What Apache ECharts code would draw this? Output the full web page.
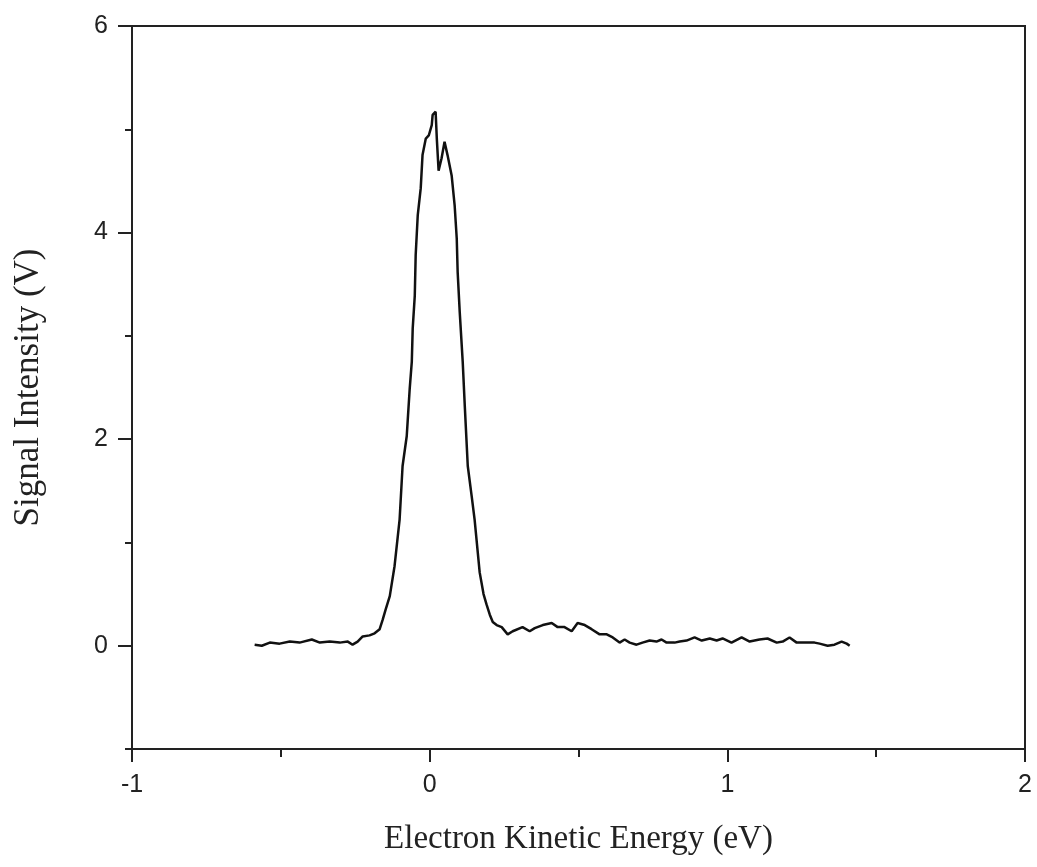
<!doctype html>
<html>
	<head>
		<meta charset="utf-8">
		<title>Electron Kinetic Energy</title>
		<script type="text/javascript" src="https://cdn.jsdelivr.net/npm/echarts@6/dist/echarts.min.js"></script>
	</head>

	<body style="margin:0;padding:0">
		<div id="tb" style="width:1037px;height:867px;"></div>
		<script>
			// 电子动能 (eV)
			var energy = [
				-0.588, -0.564, -0.537, -0.504, -0.470, -0.437, -0.396, -0.369, -0.336, -0.302,
				-0.275, -0.259, -0.242, -0.225, -0.202, -0.185, -0.168, -0.158, -0.148, -0.134,
				-0.118, -0.101, -0.091, -0.077, -0.074, -0.067, -0.060, -0.057, -0.050, -0.047,
				-0.040, -0.030, -0.024, -0.013, -0.003, 0.007, 0.010, 0.020, 0.024, 0.030,
				0.040, 0.050, 0.060, 0.074, 0.084, 0.091, 0.094, 0.101, 0.111, 0.118,
				0.128, 0.141, 0.151, 0.168, 0.181, 0.191, 0.202, 0.212, 0.225, 0.242,
				0.262, 0.279, 0.312, 0.336, 0.353, 0.380, 0.410, 0.430, 0.453, 0.477,
				0.497, 0.521, 0.544, 0.571, 0.595, 0.615, 0.638, 0.655, 0.672, 0.695,
				0.715, 0.739, 0.762, 0.779, 0.796, 0.823, 0.840, 0.863, 0.890, 0.914,
				0.941, 0.964, 0.984, 1.014, 1.048, 1.075, 1.108, 1.135, 1.166, 1.186,
				1.209, 1.233, 1.260, 1.293, 1.310, 1.337, 1.360, 1.384, 1.401, 1.411
			];
			// 信号强度 (V)
			var signal = [
				0.01, 0.00, 0.03, 0.02, 0.04, 0.03, 0.06, 0.03, 0.04, 0.03,
				0.04, 0.01, 0.04, 0.09, 0.10, 0.12, 0.16, 0.25, 0.35, 0.48,
				0.77, 1.22, 1.74, 2.03, 2.17, 2.49, 2.75, 3.07, 3.39, 3.78,
				4.17, 4.43, 4.75, 4.91, 4.94, 5.04, 5.14, 5.17, 4.91, 4.60,
				4.72, 4.88, 4.75, 4.55, 4.26, 3.94, 3.62, 3.23, 2.75, 2.32,
				1.74, 1.45, 1.22, 0.71, 0.50, 0.40, 0.30, 0.23, 0.20, 0.18,
				0.11, 0.14, 0.18, 0.14, 0.17, 0.20, 0.22, 0.18, 0.18, 0.14,
				0.22, 0.20, 0.16, 0.11, 0.11, 0.08, 0.03, 0.06, 0.03, 0.01,
				0.03, 0.05, 0.04, 0.06, 0.03, 0.03, 0.04, 0.05, 0.08, 0.05,
				0.07, 0.05, 0.07, 0.03, 0.08, 0.04, 0.06, 0.07, 0.03, 0.04,
				0.08, 0.03, 0.03, 0.03, 0.02, 0.00, 0.01, 0.04, 0.02, 0.00
			];
			var yLabels = [0, 2, 4, 6];

			var points = [];
			for (var i = 0; i < energy.length; i++) {
				points.push([energy[i], signal[i]]);
			}

			var lineColor = '#222';
			var btchart = echarts.init(document.getElementById('tb'));

			btchart.setOption({
				animation: false,
				backgroundColor: '#fff',
				grid: {
					left: 132, right: 12, top: 26, bottom: 118,
					show: true, borderColor: lineColor, borderWidth: 2
				},
				xAxis: {
					type: 'value', min: -1, max: 2, interval: 1,
					name: 'Electron Kinetic Energy (eV)',
					nameLocation: 'middle', nameGap: 74,
					nameTextStyle: {fontFamily: 'Liberation Serif', fontSize: 33, color: '#222'},
					axisLine: {onZero: false, lineStyle: {color: lineColor, width: 2}},
					axisTick: {inside: false, length: 13, lineStyle: {color: lineColor, width: 2}},
					minorTick: {show: true, splitNumber: 2, length: 8, lineStyle: {color: lineColor, width: 2}},
					axisLabel: {margin: 24, fontFamily: 'Liberation Sans', fontSize: 25, color: '#222'},
					splitLine: {show: false}
				},
				yAxis: [{
					type: 'value', min: -1, max: 6, interval: 1,
					name: 'Signal Intensity (V)',
					nameLocation: 'middle', nameGap: 86,
					nameTextStyle: {fontFamily: 'Liberation Serif', fontSize: 35, color: '#222'},
					axisLine: {show: true, onZero: false, lineStyle: {color: lineColor, width: 2}},
					axisTick: {show: true, length: 7, lineStyle: {color: lineColor, width: 2}},
					axisLabel: {
						customValues: yLabels, margin: 24,
						fontFamily: 'Liberation Sans', fontSize: 25, color: '#222'
					},
					splitLine: {show: false}
				}, {
					type: 'value', min: -1, max: 6, interval: 1, position: 'left',
					axisLine: {show: false, onZero: false},
					axisTick: {show: true, customValues: yLabels, length: 14, lineStyle: {color: lineColor, width: 2}},
					axisLabel: {show: false},
					splitLine: {show: false}
				}],
				series: [{
					type: 'line',
					data: points,
					showSymbol: false,
					lineStyle: {color: '#111', width: 2.5}
				}]
			});
		</script>
	</body>
</html>
